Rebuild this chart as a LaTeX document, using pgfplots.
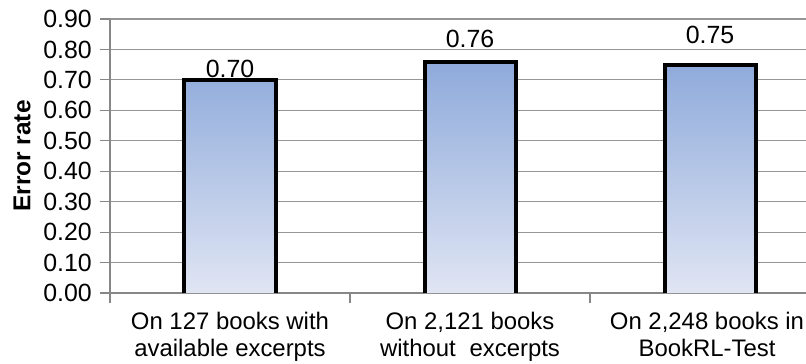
\documentclass[border=0pt]{standalone}
\usepackage{pgfplots}
\usepackage{pgfplotstable}
\pgfplotsset{compat=1.18}
\usepackage{fontspec}
\setmainfont{Liberation Sans}

\definecolor{gridgray}{RGB}{150,150,150}
\definecolor{axisgray}{RGB}{135,135,135}
\definecolor{bartop}{RGB}{142,170,219}
\definecolor{barbot}{RGB}{224,229,243}

% x: category index, rate: error rate, lift: label offset above the bar (bp)
\pgfplotstableread{
x rate lift
0 0.70 0
1 0.76 12
2 0.75 18.5
}\errdata

\begin{document}
\begin{tikzpicture}
\begin{axis}[
  scale only axis,
  width=696bp, height=274bp,
  xmin=-0.5, xmax=2.4,
  ymin=0, ymax=0.9,
  axis x line*=bottom,
  axis y line*=left,
  axis line style={axisgray, line width=1.2bp},
  ymajorgrids,
  grid style={gridgray, line width=1.2bp},
  tick style={axisgray, line width=1.2bp},
  tick align=outside,
  major tick length=10bp,
  ytick={0,0.1,0.2,0.3,0.4,0.5,0.6,0.7,0.8,0.9},
  yticklabel style={font=\fontsize{25}{27}\selectfont, inner xsep=0bp, xshift=-8bp},
  /pgf/number format/.cd, fixed, fixed zerofill, precision=2, assume math mode=true,
  /pgfplots/.cd,
  xtick={-0.5,0.5,1.5},
  xticklabels={},
  extra x ticks={0,1,1.9875},
  extra x tick labels={{On 127 books with\\available excerpts},
                       {On 2,121 books\\without\hspace{0.3em} excerpts},
                       {On 2,248 books in\\BookRL-Test}},
  extra x tick style={major tick length=0pt},
  xticklabel style={align=center, font=\fontsize{24}{27}\selectfont, inner ysep=0pt, yshift=-19bp},
  ylabel={Error rate},
  ylabel style={font=\bfseries\fontsize{24.5}{27}\selectfont, at={(axis description cs:-0.1264,0.5)}, anchor=center},
  clip=true,
]
\addplot[ybar, bar width=91bp, draw=black, line width=4bp,
  top color=bartop, bottom color=barbot,
  dash pattern={on 0bp off 91bp on 4000bp},
  visualization depends on={\thisrow{lift} \as \lift},
  nodes near coords,
  nodes near coords style={text=black, anchor=south, inner sep=0pt, yshift=\lift bp,
    font=\fontsize{25}{27}\selectfont, solid},
] table[x=x, y=rate] {\errdata};
\end{axis}
\pgfresetboundingbox
\useasboundingbox (-110bp,-71bp) rectangle (696bp,293bp);
\end{tikzpicture}
\end{document}
